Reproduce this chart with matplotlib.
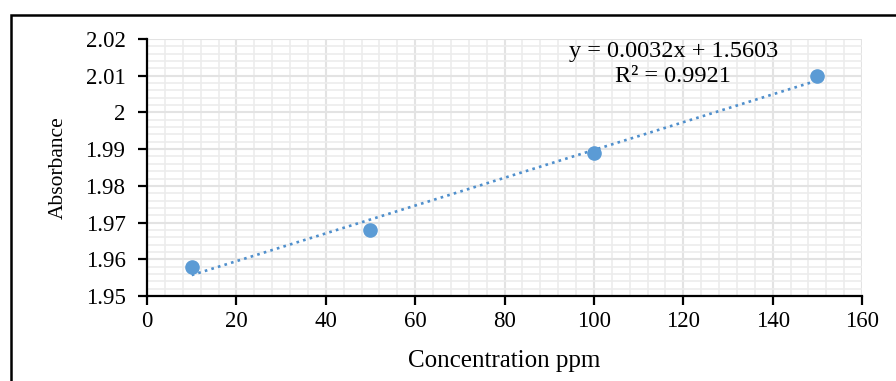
import numpy as np
import matplotlib.pyplot as plt
from matplotlib.ticker import MultipleLocator
from matplotlib.patches import Rectangle

# Messwerte
konz = [10, 50, 100, 150]
absorb = [1.958, 1.968, 1.989, 2.010]
y_labels = ["1.95", "1.96", "1.97", "1.98", "1.99", "2", "2.01", "2.02"]
gleichung = "y = 0.0032x + 1.5603"
bestimmtheit = "R² = 0.9921"

plt.rcParams['font.family'] = ['Liberation Serif', 'DejaVu Serif']

fig = plt.figure(figsize=(8.96, 3.81), dpi=100)
ax = fig.add_axes([147/896, 1 - 296/381, (862-147)/896, (296-39)/381])

# Rahmen um die Grafik (rechts/unten abgeschnitten)
fig.patches.append(Rectangle((11/896, -0.1), 1.2, 1 - 15/381 + 0.1,
                             transform=fig.transFigure, fill=False,
                             edgecolor="black", linewidth=1.8))

blau = "#5b9bd5"
ax.scatter(konz, absorb, s=90, color=blau, zorder=3)

# lineare Trendlinie
m, b = np.polyfit(konz, absorb, 1)
xs = np.array([konz[0], konz[-1]])
ax.plot(xs, m * xs + b, color="#4f8fcc", linestyle=(0, (1, 1.6)),
        linewidth=1.9, zorder=2)

ax.set_xlim(0, 160)
ax.set_ylim(1.95, 2.02)
ax.xaxis.set_major_locator(MultipleLocator(20))
ax.xaxis.set_minor_locator(MultipleLocator(4))
ax.yaxis.set_minor_locator(MultipleLocator(0.002))
ax.set_yticks(np.arange(1.95, 2.0201, 0.01))
ax.set_yticklabels(y_labels)

ax.grid(True, which="major", color="#e3e3e3", linewidth=1.5)
ax.grid(True, which="minor", color="#ececec", linewidth=1.2)
ax.set_axisbelow(True)

for s in ["top", "right"]:
    ax.spines[s].set_visible(False)
for s in ["left", "bottom"]:
    ax.spines[s].set_linewidth(1.6)

ax.tick_params(which="major", direction="out", length=6.5, width=1.6, labelsize=16.5)
ax.tick_params(axis="y", pad=9)
ax.tick_params(axis="x", pad=4)
ax.tick_params(which="minor", length=0)

ax.set_xlabel("Concentration ppm", fontsize=18, labelpad=13)
ax.set_ylabel("Absorbance", fontsize=15.5, labelpad=13)

ax.text(674/896, 1 - 52/381, gleichung, transform=fig.transFigure,
        ha="center", va="center", fontsize=17.5)
ax.text(673/896, 1 - 76/381, bestimmtheit, transform=fig.transFigure,
        ha="center", va="center", fontsize=17.5)

fig.savefig("out.png", dpi=100)
